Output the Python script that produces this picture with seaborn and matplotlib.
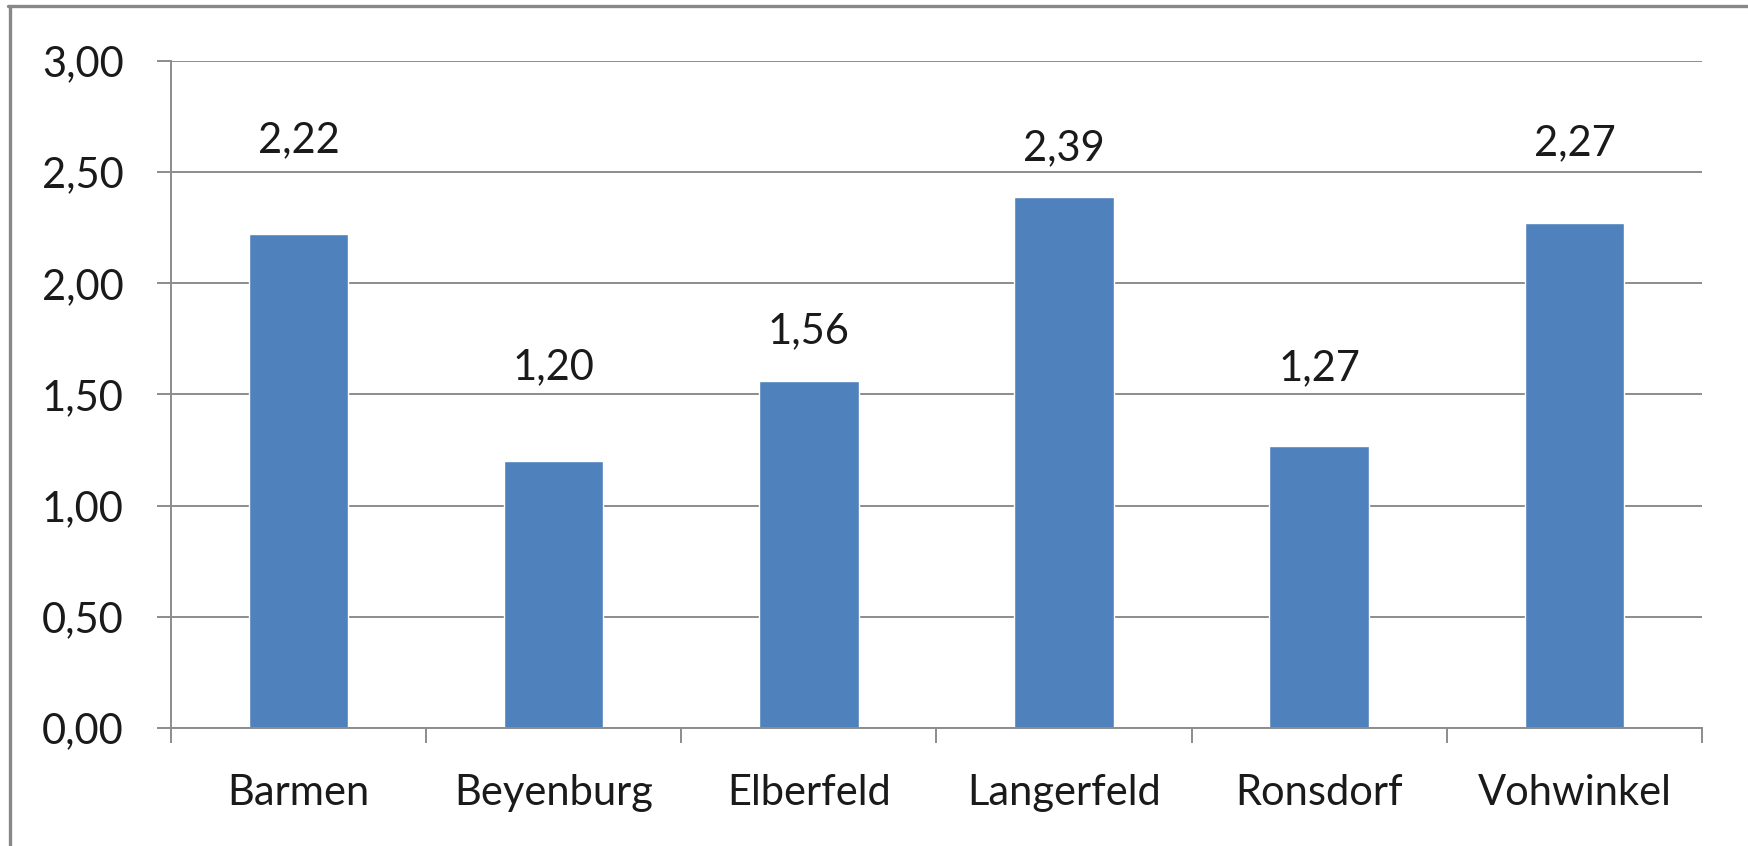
import matplotlib
matplotlib.use('Agg')
from matplotlib import pyplot as plt
from matplotlib.lines import Line2D
from matplotlib.ticker import FuncFormatter
import seaborn as sns
import pandas as pd

# Daten
stadtteile = ['Barmen', 'Beyenburg', 'Elberfeld', 'Langerfeld', 'Ronsdorf', 'Vohwinkel']
werte = [2.22, 1.20, 1.56, 2.39, 1.27, 2.27]
y_ticks = [0.0, 0.5, 1.0, 1.5, 2.0, 2.5, 3.0]

# Abstand der Beschriftung über dem Balken (Punkte), wie im Original
label_abstand = [68, 68, 36, 35, 56, 58]

df = pd.DataFrame({'Stadtteil': stadtteile, 'Wert': werte})

sns.set_style('white')
plt.rcParams['font.family'] = ['Lato', 'DejaVu Sans']

fig = plt.figure(figsize=(17.48, 8.46), dpi=100)
ax = fig.add_axes([0.0978, 0.1395, 0.8759, 0.7884])

sns.barplot(data=df, x='Stadtteil', y='Wert', color='#4F81BD', width=0.39,
            saturation=1, ax=ax)

ax.set_ylim(0, 3.0)
ax.set_xlim(-0.5, len(stadtteile) - 0.5)
ax.set_yticks(y_ticks)
ax.yaxis.set_major_formatter(FuncFormatter(lambda v, p: f'{v:.2f}'.replace('.', ',')))
ax.yaxis.grid(True, color='#8c8c8c', linewidth=1.4)
ax.set_axisbelow(True)

# Ticks an den Kategoriegrenzen, Beschriftung in der Mitte
ax.set_xticks([i - 0.5 for i in range(len(stadtteile) + 1)])
ax.set_xticklabels([])
ax.set_xticks(range(len(stadtteile)), minor=True)
ax.set_xticklabels(stadtteile, minor=True)
ax.tick_params(axis='x', which='major', length=11, width=1.4, color='#8c8c8c', direction='out', bottom=True)
ax.tick_params(axis='x', which='minor', length=0, pad=33, labelsize=30, labelcolor='#1a1a1a')
ax.tick_params(axis='y', length=10, width=1.4, color='#8c8c8c', direction='out', left=True,
               pad=24, labelsize=30, labelcolor='#1a1a1a')

ax.set_xlabel('')
ax.set_ylabel('')
for s in ['top', 'right']:
    ax.spines[s].set_visible(False)
for s in ['left', 'bottom']:
    ax.spines[s].set_color('#8c8c8c')
    ax.spines[s].set_linewidth(1.4)

# Werte über den Balken
for i, v in enumerate(werte):
    ax.annotate(f'{v:.2f}'.replace('.', ','), xy=(i, v), xytext=(0, label_abstand[i]),
                textcoords='offset points', ha='center', va='center',
                fontsize=30, color='#1a1a1a')

# Rahmen
fig.add_artist(Line2D([8 / 1748, 1], [1 - 6 / 846, 1 - 6 / 846], color='#888888',
                      linewidth=2.4, transform=fig.transFigure))
fig.add_artist(Line2D([9.5 / 1748, 9.5 / 1748], [0, 1 - 6 / 846], color='#888888',
                      linewidth=2.4, transform=fig.transFigure))

fig.savefig('out.png', dpi=100)
